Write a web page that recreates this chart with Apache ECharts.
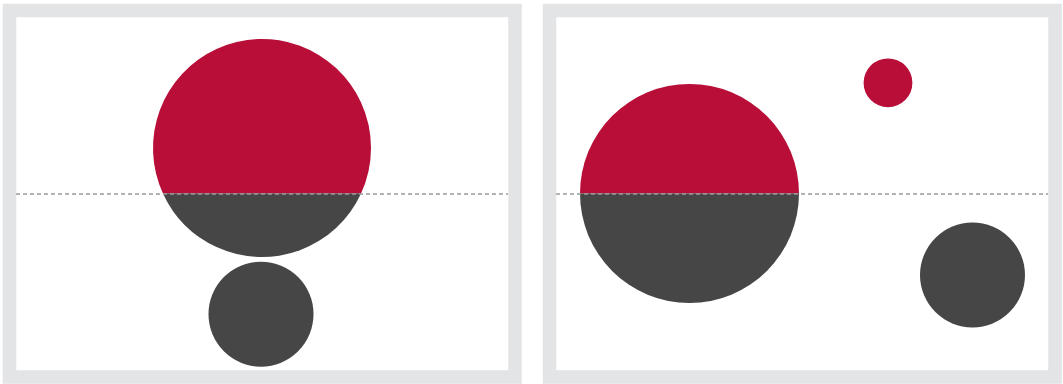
<!DOCTYPE html>
<html>
<head>
<meta charset="utf-8">
<title>Bubbles above and below the baseline</title>
<script src="https://cdn.jsdelivr.net/npm/echarts@6/dist/echarts.min.js"></script>
<style>
  html, body { margin: 0; padding: 0; background: #ffffff; }
  #chart { width: 1063px; height: 384px; }
</style>
</head>
<body>
<div id="chart"></div>
<script>
// Bubble positions (x, y relative to the baseline at y = 0) and radii, in axis units
const leftX = [246, 245];
const leftY = [45.5, -120.7];
const leftR = [109, 52.5];

const rightX = [133.5, 332, 416.5];
const rightY = [0, 110.7, -81.5];
const rightR = [109.5, 24.4, 52.5];

// Axis extents shared by both panels
const xRange = [0, 492];
const yRange = [-176.5, 176.5];
const baseline = 0;

const ABOVE = '#b80e38';
const BELOW = '#464646';
const FRAME = '#e3e4e6';

function toRows(xs, ys, rs) {
  return xs.map((x, i) => [x, ys[i], rs[i]]);
}

// One bubble: red for the part above the baseline, dark grey for the part below
function renderBubble(params, api) {
  const c = api.coord([api.value(0), api.value(1)]);
  const r = api.size([api.value(2), 0])[0];
  const base = api.coord([0, baseline])[1];
  const cx = c[0], cy = c[1];
  if (cy + r <= base) {
    return { type: 'circle', shape: { cx, cy, r }, style: { fill: ABOVE } };
  }
  if (cy - r >= base) {
    return { type: 'circle', shape: { cx, cy, r }, style: { fill: BELOW } };
  }
  const h = base - cy;
  const w = Math.sqrt(Math.max(r * r - h * h, 0));
  const upperLarge = h > 0 ? 1 : 0;
  const lowerLarge = h > 0 ? 0 : 1;
  const upper = 'M' + (cx - w) + ' ' + base + ' A' + r + ' ' + r + ' 0 ' + upperLarge + ' 1 ' + (cx + w) + ' ' + base + ' Z';
  const lower = 'M' + (cx + w) + ' ' + base + ' A' + r + ' ' + r + ' 0 ' + lowerLarge + ' 1 ' + (cx - w) + ' ' + base + ' Z';
  return {
    type: 'group',
    children: [
      { type: 'path', shape: { pathData: upper }, style: { fill: ABOVE } },
      { type: 'path', shape: { pathData: lower }, style: { fill: BELOW } }
    ]
  };
}

function bubbleSeries(idx, rows) {
  return {
    type: 'custom',
    xAxisIndex: idx,
    yAxisIndex: idx,
    data: rows,
    renderItem: renderBubble,
    clip: false,
    silent: true,
    z: 2,
    markLine: {
      silent: true,
      symbol: ['none', 'none'],
      label: { show: false },
      lineStyle: { color: '#9a9a9a', width: 1.5, type: [4, 3] },
      data: [{ yAxis: baseline }],
      animation: false
    }
  };
}

const panelGrids = [
  { left: 16, top: 17, width: 492, height: 353 },
  { left: 556, top: 17, width: 492, height: 353 }
];

function axis(range, gi) {
  return { type: 'value', gridIndex: gi, min: range[0], max: range[1], show: false };
}

const chart = echarts.init(document.getElementById('chart'), null, { renderer: 'canvas' });
chart.setOption({
  animation: false,
  backgroundColor: '#ffffff',
  grid: panelGrids,
  xAxis: [axis(xRange, 0), axis(xRange, 1)],
  yAxis: [axis(yRange, 0), axis(yRange, 1)],
  graphic: [
    {
      type: 'rect', z: 0, silent: true,
      shape: { x: 9.5, y: 10.5, width: 505.5, height: 366.5 },
      style: { fill: 'none', stroke: FRAME, lineWidth: 13.5 }
    },
    {
      type: 'rect', z: 0, silent: true,
      shape: { x: 549.5, y: 10.5, width: 505.5, height: 366.5 },
      style: { fill: 'none', stroke: FRAME, lineWidth: 13.5 }
    }
  ],
  series: [
    bubbleSeries(0, toRows(leftX, leftY, leftR)),
    bubbleSeries(1, toRows(rightX, rightY, rightR))
  ]
});
</script>
</body>
</html>
